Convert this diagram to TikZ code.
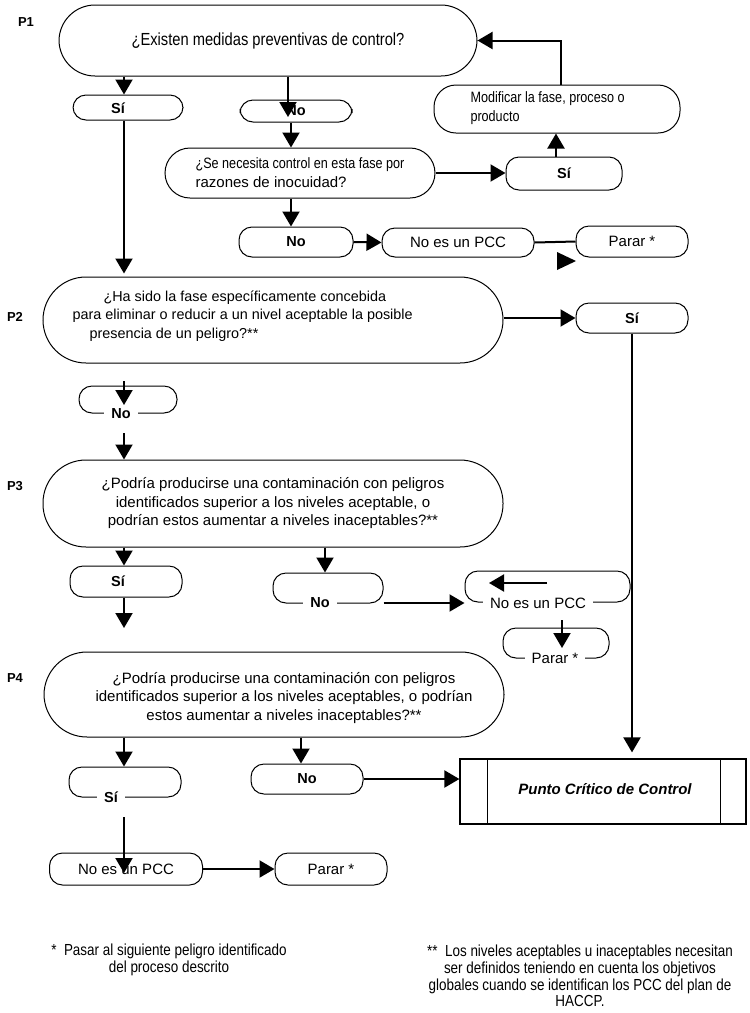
\documentclass[tikz,border=0pt]{standalone}
\usepackage{fontspec}
\setmainfont{Liberation Sans}
\newfontfamily\cond[FakeStretch=0.84]{Liberation Sans}
\usetikzlibrary{arrows.meta}
\begin{document}
\begin{tikzpicture}[x=1pt,y=-1pt,
  rbox/.style={draw, line width=1pt, rounded corners=13pt, inner sep=0pt},
  yn/.style={font=\fontsize{14.5}{16}\selectfont\bfseries},
  tx/.style={font=\fontsize{15}{18}\selectfont},
  qtx/.style={font=\fontsize{15}{18.5}\selectfont},
  edgetxt/.style={fill=white, inner xsep=7pt, inner ysep=1pt},
  arr/.style={line width=2pt, -{Triangle[length=15pt,width=17pt]}},
  ln/.style={line width=2pt},
  plab/.style={font=\fontsize{13}{15}\selectfont\bfseries},
  foot/.style={font=\fontsize{16}{16.6}\selectfont\cond, align=center},
]
\useasboundingbox (0,0) rectangle (750,1013);

% ---------- P labels
\node[plab] (p1) at (26,22) {P1};
\node[plab] (p2) at (15,317) {P2};
\node[plab] (p3) at (15,486) {P3};
\node[plab] (p4) at (15,678) {P4};

% ---------- P1
\node[rbox, rounded corners=36pt, minimum width=418pt, minimum height=71pt,
      font=\fontsize{17.5}{20}\selectfont\cond] (q1) at (268,40.5)
      {¿Existen medidas preventivas de control?};
\node[rbox, minimum width=110pt, minimum height=25pt] (si1) at (128,107.5) {};
\node[yn] (si1t) at (118,108) {Sí};
\node[rbox, minimum width=112pt, minimum height=22pt, yn] (no1) at (296,111) {No};
\node[rbox, rounded corners=25pt, minimum width=270pt, minimum height=50pt,
      align=left, font=\fontsize{15}{19}\selectfont] (q2) at (300,173)
      {{\cond ¿Se necesita control en esta fase por}\\razones de inocuidad?};
\node[rbox, minimum width=116pt, minimum height=33pt, yn] (si2) at (564,173.5) {Sí};
\node[rbox, rounded corners=22pt, minimum width=246pt, minimum height=48pt] (mod) at (557,109) {};
\node[anchor=west, align=left, font=\fontsize{15}{19}\selectfont\cond] (modt) at (467,108)
      {Modificar la fase, proceso o\\producto};
\node[rbox, minimum width=114pt, minimum height=30pt, yn] (no2) at (296,242) {No};
\node[rbox, minimum width=152pt, minimum height=29pt, tx] (pcc1) at (458,242.5) {No es un PCC};
\node[rbox, minimum width=112pt, minimum height=31pt, tx] (parar1) at (632,241.5) {Parar *};

% ---------- P2
\node[rbox, rounded corners=43pt, minimum width=460pt, minimum height=86pt] (q3) at (273,320) {};
\node[anchor=west, align=left, font=\fontsize{14.4}{18.5}\selectfont] (q3t) at (69,316)
      {\hspace*{31pt}¿Ha sido la fase específicamente concebida\\
       para eliminar o reducir a un nivel aceptable la posible\\
       \hspace*{17pt}presencia de un peligro?**};
\node[rbox, minimum width=112pt, minimum height=30pt, yn] (si3) at (632,318) {Sí};
\node[rbox, minimum width=98pt, minimum height=27pt] (no3) at (128,399.5) {};
\node[yn, edgetxt] (no3t) at (121,414) {No};

% ---------- P3
\node[rbox, rounded corners=43pt, minimum width=460pt, minimum height=87pt,
      align=center, qtx] (q4) at (273,503.5)
      {¿Podría producirse una contaminación con peligros\\
       identificados superior a los niveles aceptable, o\\
       podrían estos aumentar a niveles inaceptables?**};
\node[rbox, minimum width=112pt, minimum height=31pt] (si4) at (126,581.5) {};
\node[yn] (si4t) at (118,581) {Sí};
\node[rbox, minimum width=110pt, minimum height=30pt] (no4) at (328,588) {};
\node[yn, edgetxt] (no4t) at (320,603) {No};
\node[rbox, minimum width=165pt, minimum height=31pt] (pcc2) at (547.5,586.5) {};
\node[tx, edgetxt] (pcc2t) at (538,603) {No es un PCC};
\node[rbox, minimum width=106pt, minimum height=30pt] (parar2) at (556,643) {};
\node[tx, edgetxt] (parar2t) at (555,658) {Parar *};

% ---------- P4
\node[rbox, rounded corners=43pt, minimum width=460pt, minimum height=85pt] (q5) at (274,694.5) {};
\node[align=center, qtx] (q5t) at (284,698)
      {¿Podría producirse una contaminación con peligros\\
       identificados superior a los niveles aceptables, o podrían\\
       estos aumentar a niveles inaceptables?**};
\node[rbox, minimum width=112pt, minimum height=30pt] (si5) at (125,782) {};
\node[yn, edgetxt] (si5t) at (111,797) {Sí};
\node[rbox, minimum width=112pt, minimum height=30pt, yn] (no5) at (307,779) {No};
\node[rbox, minimum width=153pt, minimum height=32pt, tx] (pcc3) at (126,869) {No es un PCC};
\node[rbox, minimum width=112pt, minimum height=32pt, tx] (parar3) at (331,869) {Parar *};

% ---------- Punto Critico de Control
\node[draw, line width=1.2pt, minimum width=286pt, minimum height=65pt, inner sep=0pt] (pccb) at (603,791.5) {};
\draw[line width=1pt] ([xshift=28pt]pccb.north west) -- ([xshift=28pt]pccb.south west);
\draw[line width=1pt] ([xshift=-26pt]pccb.north east) -- ([xshift=-26pt]pccb.south east);
\node[font=\fontsize{15}{18}\selectfont\bfseries\itshape] (pccbt) at (605,789) {Punto Crítico de Control};

% ---------- footnotes
\node[foot] (f1) at (169,960) {*\ \ Pasar al siguiente peligro identificado\\del proceso descrito};
\node[foot] (f2) at (580,976) {**\ \ Los niveles aceptables u inaceptables necesitan\\
  ser definidos teniendo en cuenta los objetivos\\
  globales cuando se identifican los PCC del plan de\\HACCP.};

% ---------- free coordinates
\coordinate (t1) at (288,117);
\coordinate (n3a) at (124,381);
\coordinate (n3b) at (124,405);
\coordinate (n3c) at (124,433);
\coordinate (s4e) at (124,628);
\coordinate (ia) at (547,583);
\coordinate (ib) at (489,583);
\coordinate (pa) at (562,620);
\coordinate (pb) at (562,648);
\coordinate (s5a) at (124,817);
\coordinate (s5b) at (124,873);

% ---------- connectors
\draw[arr] ([xshift=-4pt]si1.north |- q1.south) -- ([xshift=-4pt]si1.north);
\draw[arr, shorten >=3pt] ([xshift=-4pt]si1.south) -- ([xshift=-4pt]si1.south |- q3.north);
\draw[arr] (t1 |- q1.south) -- (t1);
\draw[arr] ([xshift=-5pt]no1.south) -- ([xshift=-5pt]no1.south |- q2.north);
\draw[arr] (q2.east) -- (q2.east -| si2.west);
\draw[arr] ([xshift=-8pt]si2.north) -- ([xshift=-8pt]si2.north |- mod.south);
\draw[arr] ([xshift=4pt]mod.north) |- (q1.east);
\draw[arr] ([xshift=-5pt]no2.north |- q2.south) -- ([xshift=-5pt]no2.north);
\draw[arr] (no2.east) -- (pcc1.west);
\draw[ln] (pcc1.east) -- (parar1.west);
\fill (557,252) -- (576,261) -- (557,270) -- cycle;

\draw[arr] (q3.east |- si3.west) -- (si3.west);
\draw[arr, shorten >=6pt] (si3.south) -- (si3.south |- pccb.north);
\draw[arr] (n3a) -- (n3b);
\draw[arr] (n3c) -- (n3c |- q4.north);

\draw[arr] ([xshift=-2pt]si4.north |- q4.south) -- ([xshift=-2pt]si4.north);
\draw[arr] ([xshift=-2pt]si4.south) -- (s4e);
\draw[arr] ([xshift=-3pt]no4.north |- q4.south) -- ([xshift=-3pt]no4.north);
\draw[arr] (no4.east |- no4t) -- (pcc2.west |- no4t);
\draw[arr] (ia) -- (ib);
\draw[arr] (pa) -- (pb);

\draw[arr] ([xshift=-1pt]si5.north |- q5.south) -- ([xshift=-1pt]si5.north);
\draw[arr] (s5a) -- (s5b);
\draw[arr] (pcc3.east) -- (parar3.west);
\draw[arr] ([xshift=-6pt]no5.north |- q5.south) -- ([xshift=-6pt]no5.north);
\draw[arr] (no5.east) -- (no5.east -| pccb.west);
\end{tikzpicture}
\end{document}
